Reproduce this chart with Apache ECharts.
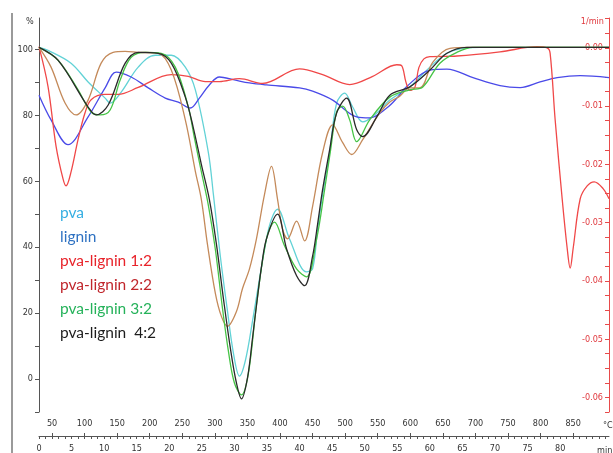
<!DOCTYPE html>
<html><head><meta charset="utf-8">
<script src="https://cdn.jsdelivr.net/npm/echarts@6/dist/echarts.min.js"></script>
<style>html,body{margin:0;padding:0;background:#fff}#c{width:613px;height:453px}</style>
</head><body><div id="c"></div>
<script>
// ---- tick labels ----
const pctTicks = [0, 20, 40, 60, 80, 100];
const dtgTicks = [0, -0.01, -0.02, -0.03, -0.04, -0.05, -0.06];
const tempTicks = [50,100,150,200,250,300,350,400,450,500,550,600,650,700,750,800,850];
const minTicks = [0,5,10,15,20,25,30,35,40,45,50,55,60,65,70,75,80];

// ---- series names ----
const names = ['pva', 'lignin', 'pva-lignin 1:2', 'pva-lignin 2:2', 'pva-lignin 3:2', 'pva-lignin  4:2'];

// ---- pva (time in min, value in %) ----
const pvaT = [0,1.38,4.92,7.54,10.15,10.92,12.62,15.23,17.85,20.31,22.46,24.0,26.0,26.77,27.85,28.92,29.85,30.77,31.69,32.77,33.85,34.92,35.69,36.62,38.46,41.08,42.0,42.77,43.54,44.62,45.69,46.92,48.15,49.69,51.85,53.85,56.92,60.0,62.62,65.08,67.69,87.5];
const pvaV = [100.6,99.7,95.8,90.1,85.2,83.7,87.0,94.6,98.2,98.2,94.6,87.7,68.7,56.0,37.0,20.8,7.8,0.9,5.7,17.5,30.4,42.5,48.5,51.5,42.5,32.5,33.4,45.5,56.0,68.7,83.7,86.7,82.5,78.0,80.7,84.6,88.6,94.6,98.8,100.3,100.6,100.6];

// ---- lignin ----
const ligT = [0,1.85,4.46,7.54,10.15,11.85,14.15,16.77,19.38,21.38,23.23,24.62,26.15,27.69,30.0,32.31,34.92,40.0,42.0,45.08,48.77,50.77,53.38,55.08,56.38,60.0,62.62,66.62,70.77,73.85,76.92,79.54,83.08,87.5];
const ligV = [86.1,78.6,71.1,79.5,88.3,93.1,91.6,88.3,85.2,84.0,82.2,85.2,89.2,91.6,90.7,89.8,89.2,88.3,87.3,84.6,79.5,79.2,82.2,85.5,88.6,93.7,94.0,91.4,89.0,88.4,90.1,91.4,92.0,91.4];

// ---- pva-lignin 1:2 (right axis, 1/min) ----
const r12T = [0,1.38,2.62,3.69,4.15,4.92,6.0,7.08,8.0,10.15,12.15,15.23,20.31,22.92,25.54,27.69,30.77,34.31,40.0,43.54,47.69,51.23,54.92,55.69,56.31,56.92,57.69,58.31,59.08,60.0,64.15,70.77,76.46,78.0,78.46,79.23,80.31,81.08,81.54,82.0,83.08,84.15,85.23,86.62,87.5];
const r12V = [0.0002,-0.0066,-0.0169,-0.0225,-0.0237,-0.0213,-0.0157,-0.0111,-0.0089,-0.0080,-0.0080,-0.0068,-0.0046,-0.0049,-0.0058,-0.0058,-0.0053,-0.0061,-0.0036,-0.0046,-0.0063,-0.0049,-0.0029,-0.0031,-0.0058,-0.0073,-0.0068,-0.0034,-0.0019,-0.0015,-0.0014,-0.0007,0.0002,0.0,-0.0009,-0.0123,-0.0259,-0.0344,-0.0378,-0.0344,-0.0259,-0.0237,-0.0230,-0.0242,-0.0259];

// ---- pva-lignin 2:2 ----
const r22T = [0,1.85,4.0,5.69,7.54,9.54,11.38,13.23,15.23,18.31,20.31,22.46,24.0,24.92,25.85,27.08,28.0,28.92,30.31,31.23,32.31,33.38,34.62,35.69,36.62,37.38,38.15,39.54,40.77,42.0,43.54,45.08,46.62,48.0,49.69,52.31,53.85,55.38,56.92,58.46,60.46,63.08,66.15,87.5];
const r22V = [100.6,94.6,83.7,80.1,84.6,95.8,99.1,99.4,99.1,98.8,93.7,78.6,63.0,54.5,41.0,25.9,19.0,16.0,20.5,27.4,33.4,42.5,56.0,64.5,54.5,45.5,42.5,47.9,41.9,52.4,68.7,77.1,71.7,68.1,72.6,80.7,84.0,85.8,88.3,88.3,96.1,100.3,100.6,100.6];

// ---- pva-lignin 3:2 ----
const r32T = [0,2.92,6.0,8.0,9.38,10.92,12.46,14.15,16.31,18.77,20.92,22.92,23.85,24.92,26.0,27.08,28.15,29.08,30.0,31.08,32.15,33.38,34.92,36.15,37.69,39.54,41.08,42.62,43.85,44.77,45.69,46.62,47.69,48.77,50.77,53.85,56.92,58.92,61.54,64.15,66.62,87.5];
const r32V = [100.6,96.7,87.7,81.0,80.1,81.6,90.7,97.6,99.1,98.8,94.6,82.5,73.2,62.9,52.7,39.2,21.7,8.4,-1.2,-4.8,1.8,22.3,42.5,47.6,40.4,33.4,31.0,42.5,57.5,69.6,81.0,82.8,78.6,72.0,78.6,85.5,87.7,88.6,95.8,99.1,100.6,100.6];

// ---- pva-lignin 4:2 ----
const r42T = [0,2.92,7.54,8.77,10.62,13.23,15.23,18.31,20.31,22.46,23.69,24.92,26.15,27.23,28.31,29.38,30.31,31.08,32.0,32.77,33.38,34.15,34.92,36.62,38.0,39.54,40.77,42.0,42.77,43.54,44.62,45.69,47.23,48.77,49.69,51.85,53.85,56.92,60.0,62.62,65.69,87.5];
const r42V = [100.6,96.7,82.5,80.1,83.1,95.8,99.1,98.8,95.8,85.5,76.2,65.1,54.5,41.0,24.4,9.3,-1.2,-6.0,0.3,12.3,22.3,34.0,42.5,50.0,39.5,31.3,28.3,37.3,47.0,57.5,69.6,80.7,85.2,75.6,73.5,79.5,86.1,88.6,93.7,98.8,100.6,100.6];

const lineColors = ['#62d2d6', '#4a4ae8', '#f04848', '#c48a5a', '#46c446', '#2a2a2a'];
const legendColors = ['#35aee2', '#2f72c2', '#e8232a', '#c0262c', '#25b25a', '#1d1d1d'];

const pairs = (T, V) => T.map((t, i) => [t, V[i]]);
const seriesData = [pairs(pvaT, pvaV), pairs(ligT, ligV), pairs(r12T, r12V), pairs(r22T, r22V), pairs(r32T, r32V), pairs(r42T, r42V)];
const axisIdx = [0, 0, 1, 0, 0, 0];

const FONT = "'Liberation Sans Narrow','DejaVu Sans Condensed','Liberation Sans',sans-serif";

const chart = echarts.init(document.getElementById('c'), null, {renderer: 'canvas'});
chart.setOption({
  animation: false,
  backgroundColor: '#fff',
  grid: {left: 39, right: 4, top: 18, height: 396.7},
  legend: {
    orient: 'vertical', left: 50, top: 199, itemWidth: 0, itemHeight: 0, itemGap: 6,
    icon: 'rect', itemStyle: {opacity: 0}, selectedMode: false,
    textStyle: {fontFamily: "Lato, 'Open Sans', sans-serif", fontSize: 15.5, lineHeight: 18},
    data: names.map((n, i) => ({name: n, textStyle: {color: legendColors[i]}}))
  },
  xAxis: [
    {type: 'value', min: 0, max: 87.5, interval: 1, position: 'bottom', offset: 24,
     axisLine: {show: true, onZero: false, lineStyle: {color: '#555', width: 1}},
     axisTick: {show: true, length: 3, lineStyle: {color: '#555'}},
     axisLabel: {fontFamily: FONT, fontSize: 9, color: '#333', margin: 8, showMaxLabel: false,
       formatter: v => (minTicks.indexOf(v) >= 0 ? String(v) : '')},
     splitLine: {show: false}},
    {type: 'value', min: 30, max: 905, position: 'bottom', offset: 24,
     axisLine: {show: false, onZero: false},
     axisTick: {show: true, inside: true, length: 3, customValues: tempTicks, lineStyle: {color: '#555'}},
     axisLabel: {inside: true, fontFamily: FONT, fontSize: 9, color: '#333', margin: 8, customValues: tempTicks},
     splitLine: {show: false}}
  ],
  yAxis: [
    {type: 'value', min: -10, max: 109.5, interval: 10, position: 'left',
     axisLine: {show: true, onZero: false, lineStyle: {color: '#555', width: 1}},
     axisTick: {show: true, length: 4, lineStyle: {color: '#555'}},
     axisLabel: {fontFamily: FONT, fontSize: 9, color: '#333', margin: 6, showMaxLabel: false,
       formatter: v => (pctTicks.indexOf(v) >= 0 ? String(v) : '')},
     splitLine: {show: false}},
    {type: 'value', min: -0.0625, max: 0.00512, interval: 0.0025, position: 'right',
     axisLine: {show: true, onZero: false, lineStyle: {color: '#e84a4a', width: 1}},
     axisTick: {show: true, inside: true, length: 4, lineStyle: {color: '#e84a4a'}},
     axisLabel: {inside: true, fontFamily: FONT, fontSize: 9, color: '#e0393e', margin: 6, showMaxLabel: false,
       formatter: v => { const k = Math.round(v * 100); return (Math.abs(v * 100 - k) < 1e-6 && k <= 0 && k >= -6) ? (k === 0 ? '0.00' : (k / 100).toFixed(2)) : ''; }},
     splitLine: {show: false}}
  ],
  graphic: [
    {type: 'line', shape: {x1: 12, y1: 13, x2: 12, y2: 453}, style: {stroke: '#9a9a9a', lineWidth: 2}},
    {type: 'text', left: 26, top: 17, style: {text: '%', fontFamily: FONT, fontSize: 9, fill: '#333'}},
    {type: 'text', x: 604, y: 17, style: {text: '1/min', align: 'right', fontFamily: FONT, fontSize: 9, fill: '#e0393e'}},
    {type: 'text', left: 603, top: 421, style: {text: '°C', fontFamily: FONT, fontSize: 9, fill: '#333'}},
    {type: 'text', left: 597, top: 446, style: {text: 'min', fontFamily: FONT, fontSize: 9, fill: '#333'}}
  ],
  series: names.map((n, i) => ({
    name: n, type: 'line', data: seriesData[i], yAxisIndex: axisIdx[i], xAxisIndex: 0,
    smooth: 0.35, showSymbol: false, symbol: 'none',
    lineStyle: {color: lineColors[i], width: 1.3}, itemStyle: {color: lineColors[i]}, z: 2 + i
  }))
});
</script></body></html>
